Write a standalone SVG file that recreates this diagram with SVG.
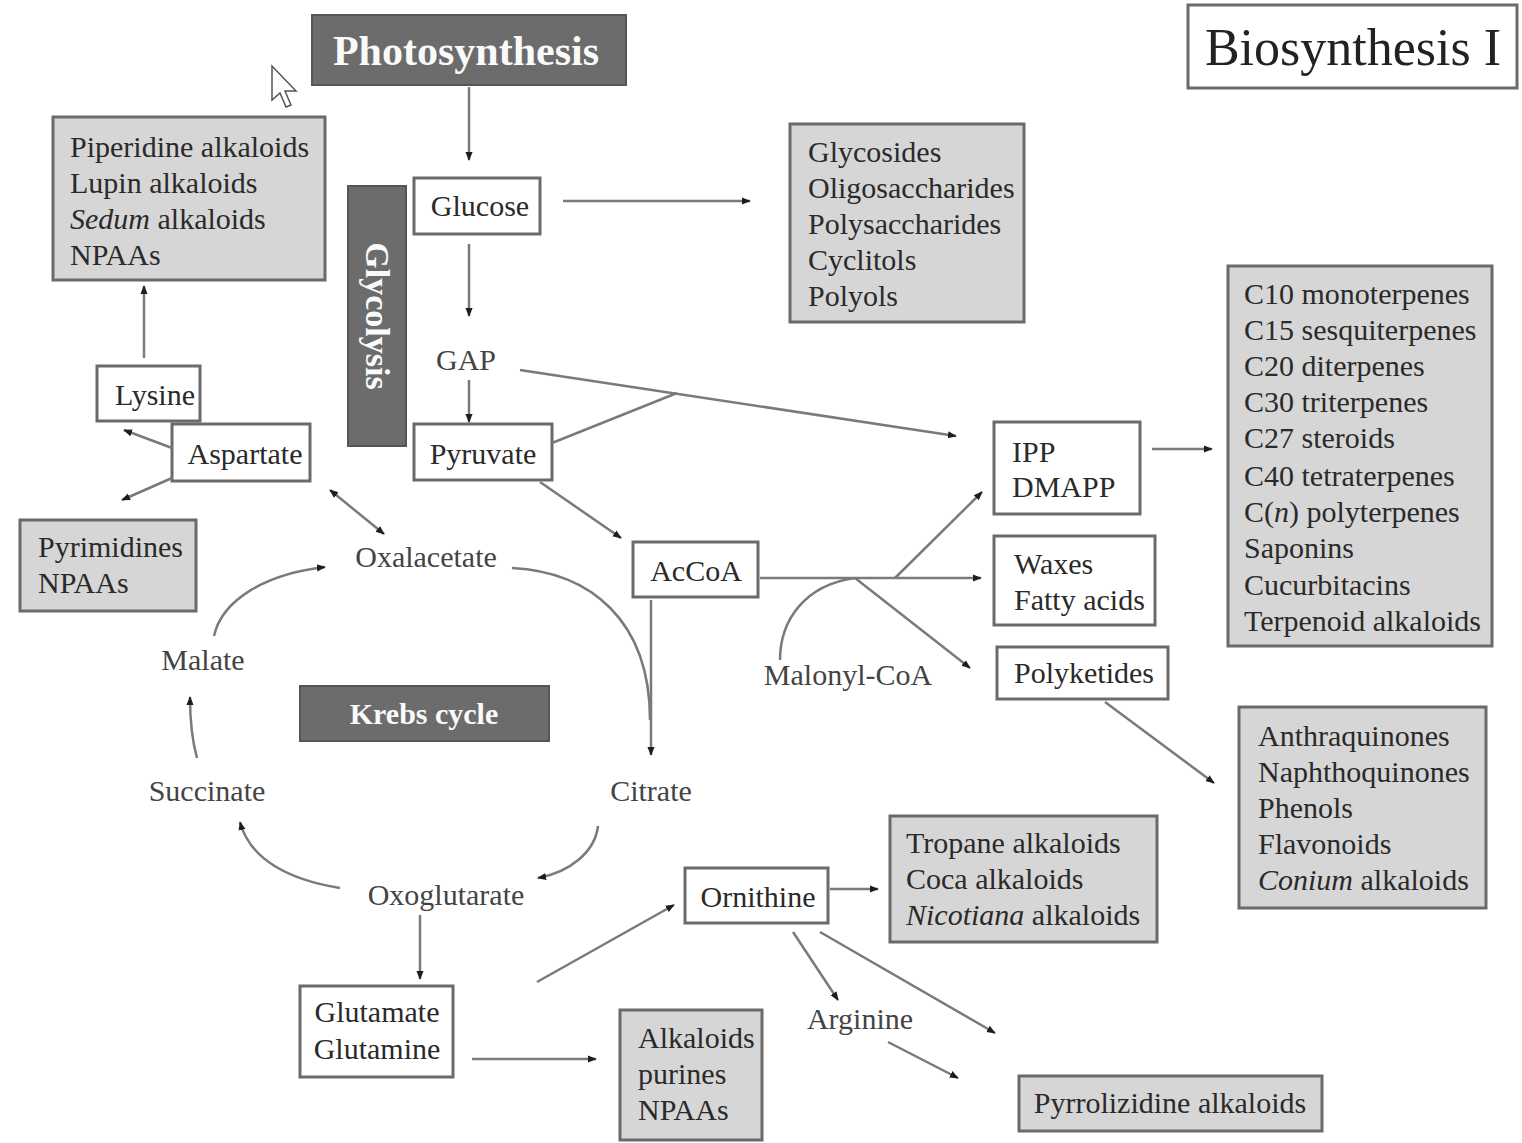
<svg xmlns="http://www.w3.org/2000/svg" width="1522" height="1143" viewBox="0 0 1522 1143">
<defs>
<marker id="ah" viewBox="0 0 10 10" refX="9" refY="5" markerWidth="9" markerHeight="9" markerUnits="userSpaceOnUse" orient="auto-start-reverse">
<path d="M0,1 L10,5 L0,9 Z" fill="#1e1e1e"/>
</marker>
</defs>
<style>
text{font-family:"Liberation Serif","Times New Roman",serif;font-size:30px;fill:#2a2a2a}
.gbox{fill:#d6d6d6;stroke:#6a6a6a;stroke-width:3}
.wbox{fill:#fff;stroke:#6a6a6a;stroke-width:3}
.dbox{fill:#6c6c6c;stroke:#555;stroke-width:2}
.wt{fill:#fafafa;font-weight:bold}
.lbl{fill:#444}
.c{text-anchor:middle}
.ln{fill:none;stroke:#7a7a7a;stroke-width:2.5}
.ar{fill:none;stroke:#7a7a7a;stroke-width:2.5;marker-end:url(#ah)}
</style>
<rect width="1522" height="1143" fill="#fff"/>

<g id="photosynthesis"><rect class="dbox" x="312" y="15" width="314" height="70"/><text class="wt c" x="466" y="65" style="font-size:42px">Photosynthesis</text></g>
<g id="title"><rect class="wbox" x="1188" y="5" width="329" height="83"/><text class="c" x="1353" y="65" style="font-size:52px;fill:#222">Biosynthesis I</text></g>
<g id="cursor"><path d="M272,66 L272,100 L280,93 L286,107 L291,105 L285,91 L296,91 Z" fill="#fff" stroke="#555" stroke-width="1.5"/></g>

<g id="piperidine"><rect class="gbox" x="53" y="117" width="272" height="163"/>
<text x="70" y="157">Piperidine alkaloids</text><text x="70" y="193">Lupin alkaloids</text><text x="70" y="229"><tspan font-style="italic">Sedum</tspan> alkaloids</text><text x="70" y="265">NPAAs</text></g>

<g id="glycolysis"><rect class="dbox" x="348" y="186" width="58" height="260"/><text class="wt c" transform="translate(366,316) rotate(90)" style="font-size:34px">Glycolysis</text></g>

<g id="glucose"><rect class="wbox" x="414" y="178" width="126" height="56"/><text class="c" x="480" y="216">Glucose</text></g>
<g id="glycosides"><rect class="gbox" x="790" y="124" width="234" height="198"/>
<text x="808" y="162">Glycosides</text><text x="808" y="198">Oligosaccharides</text><text x="808" y="234">Polysaccharides</text><text x="808" y="270">Cyclitols</text><text x="808" y="306">Polyols</text></g>

<g id="gap"><text class="c lbl" x="466" y="370">GAP</text></g>
<g id="pyruvate"><rect class="wbox" x="414" y="424" width="138" height="56"/><text class="c" x="483" y="464">Pyruvate</text></g>

<g id="ipp"><rect class="wbox" x="994" y="422" width="146" height="92"/><text x="1012" y="462">IPP</text><text x="1012" y="497">DMAPP</text></g>
<g id="terpenes"><rect class="gbox" x="1228" y="266" width="264" height="380"/>
<text x="1244" y="304">C10 monoterpenes</text><text x="1244" y="340">C15 sesquiterpenes</text><text x="1244" y="376">C20 diterpenes</text><text x="1244" y="412">C30 triterpenes</text><text x="1244" y="448">C27 steroids</text><text x="1244" y="486">C40 tetraterpenes</text><text x="1244" y="522">C(<tspan font-style="italic">n</tspan>) polyterpenes</text><text x="1244" y="558">Saponins</text><text x="1244" y="595">Cucurbitacins</text><text x="1244" y="631">Terpenoid alkaloids</text></g>

<g id="acCoA"><rect class="wbox" x="633" y="542" width="125" height="55"/><text class="c" x="696" y="581">AcCoA</text></g>
<g id="malonyl"><text class="c lbl" x="848" y="685">Malonyl-CoA</text></g>
<g id="waxes"><rect class="wbox" x="994" y="536" width="161" height="89"/><text x="1014" y="574">Waxes</text><text x="1014" y="610">Fatty acids</text></g>
<g id="polyketides"><rect class="wbox" x="997" y="647" width="171" height="52"/><text class="c" x="1084" y="683">Polyketides</text></g>
<g id="anthraquinones"><rect class="gbox" x="1239" y="707" width="247" height="201"/>
<text x="1258" y="746">Anthraquinones</text><text x="1258" y="782">Naphthoquinones</text><text x="1258" y="818">Phenols</text><text x="1258" y="854">Flavonoids</text><text x="1258" y="890"><tspan font-style="italic">Conium</tspan> alkaloids</text></g>

<g id="lysine"><rect class="wbox" x="97" y="366" width="103" height="55"/><text class="c" x="155" y="405">Lysine</text></g>
<g id="aspartate"><rect class="wbox" x="172" y="424" width="138" height="57"/><text class="c" x="245" y="464">Aspartate</text></g>
<g id="pyrimidines"><rect class="gbox" x="20" y="520" width="176" height="91"/><text x="38" y="557">Pyrimidines</text><text x="38" y="593">NPAAs</text></g>

<g id="oxalacetate"><text class="c lbl" x="426" y="567">Oxalacetate</text></g>
<g id="citrate"><text class="c lbl" x="651" y="801">Citrate</text></g>
<g id="oxoglutarate"><text class="c lbl" x="446" y="905">Oxoglutarate</text></g>
<g id="succinate"><text class="c lbl" x="207" y="801">Succinate</text></g>
<g id="malate"><text class="c lbl" x="203" y="670">Malate</text></g>
<g id="krebs"><rect class="dbox" x="300" y="686" width="249" height="55"/><text class="wt c" x="424" y="724">Krebs cycle</text></g>

<g id="glutamate"><rect class="wbox" x="300" y="986" width="153" height="91"/><text class="c" x="377" y="1022">Glutamate</text><text class="c" x="377" y="1059">Glutamine</text></g>
<g id="alkaloids"><rect class="gbox" x="620" y="1010" width="142" height="130"/><text x="638" y="1048">Alkaloids</text><text x="638" y="1084">purines</text><text x="638" y="1120">NPAAs</text></g>
<g id="ornithine"><rect class="wbox" x="685" y="868" width="143" height="55"/><text class="c" x="758" y="907">Ornithine</text></g>
<g id="tropane"><rect class="gbox" x="890" y="816" width="267" height="126"/><text x="906" y="853">Tropane alkaloids</text><text x="906" y="889">Coca alkaloids</text><text x="906" y="925"><tspan font-style="italic">Nicotiana</tspan> alkaloids</text></g>
<g id="arginine"><text class="c lbl" x="860" y="1029">Arginine</text></g>
<g id="pyrrolizidine"><rect class="gbox" x="1019" y="1076" width="303" height="55"/><text class="c" x="1170" y="1113">Pyrrolizidine alkaloids</text></g>

<g id="connectors">
<path class="ar" d="M469,87 V160"/>
<path class="ar" d="M563,201 H750"/>
<path class="ar" d="M469,244 V316"/>
<path class="ar" d="M469,380 V422"/>
<path class="ar" d="M520,370 L956,436"/>
<path class="ln" d="M552,443 L677,393"/>
<path class="ar" d="M1152,449 H1212"/>
<path class="ar" d="M540,482 L621,538"/>
<path class="ar" d="M760,578 H981"/>
<path class="ar" d="M895,578 L982,492"/>
<path class="ar" d="M855,578 L970,668"/>
<path class="ln" d="M780,660 C780,620 805,585 855,578"/>
<path class="ar" d="M1105,702 L1214,783"/>
<path class="ar" d="M144,358 V286"/>
<path class="ar" d="M172,448 L124,430"/>
<path class="ar" d="M172,478 L122,500"/>
<path class="ar" d="M330,490 L384,534" marker-start="url(#ah)"/>
<path class="ln" d="M512,568 C590,572 650,620 650,720"/>
<path class="ar" d="M651,600 V755"/>
<path class="ar" d="M598,826 C595,852 570,872 538,878"/>
<path class="ar" d="M340,888 C290,880 250,860 240,822"/>
<path class="ar" d="M197,758 C192,740 190,720 190,697"/>
<path class="ar" d="M214,636 C222,600 265,574 325,567"/>
<path class="ar" d="M420,915 V979"/>
<path class="ar" d="M472,1059 H596"/>
<path class="ar" d="M537,982 L674,905"/>
<path class="ar" d="M830,889 H878"/>
<path class="ar" d="M793,932 L838,1000"/>
<path class="ar" d="M820,932 L995,1033"/>
<path class="ar" d="M888,1042 L958,1078"/>
</g>
</svg>
